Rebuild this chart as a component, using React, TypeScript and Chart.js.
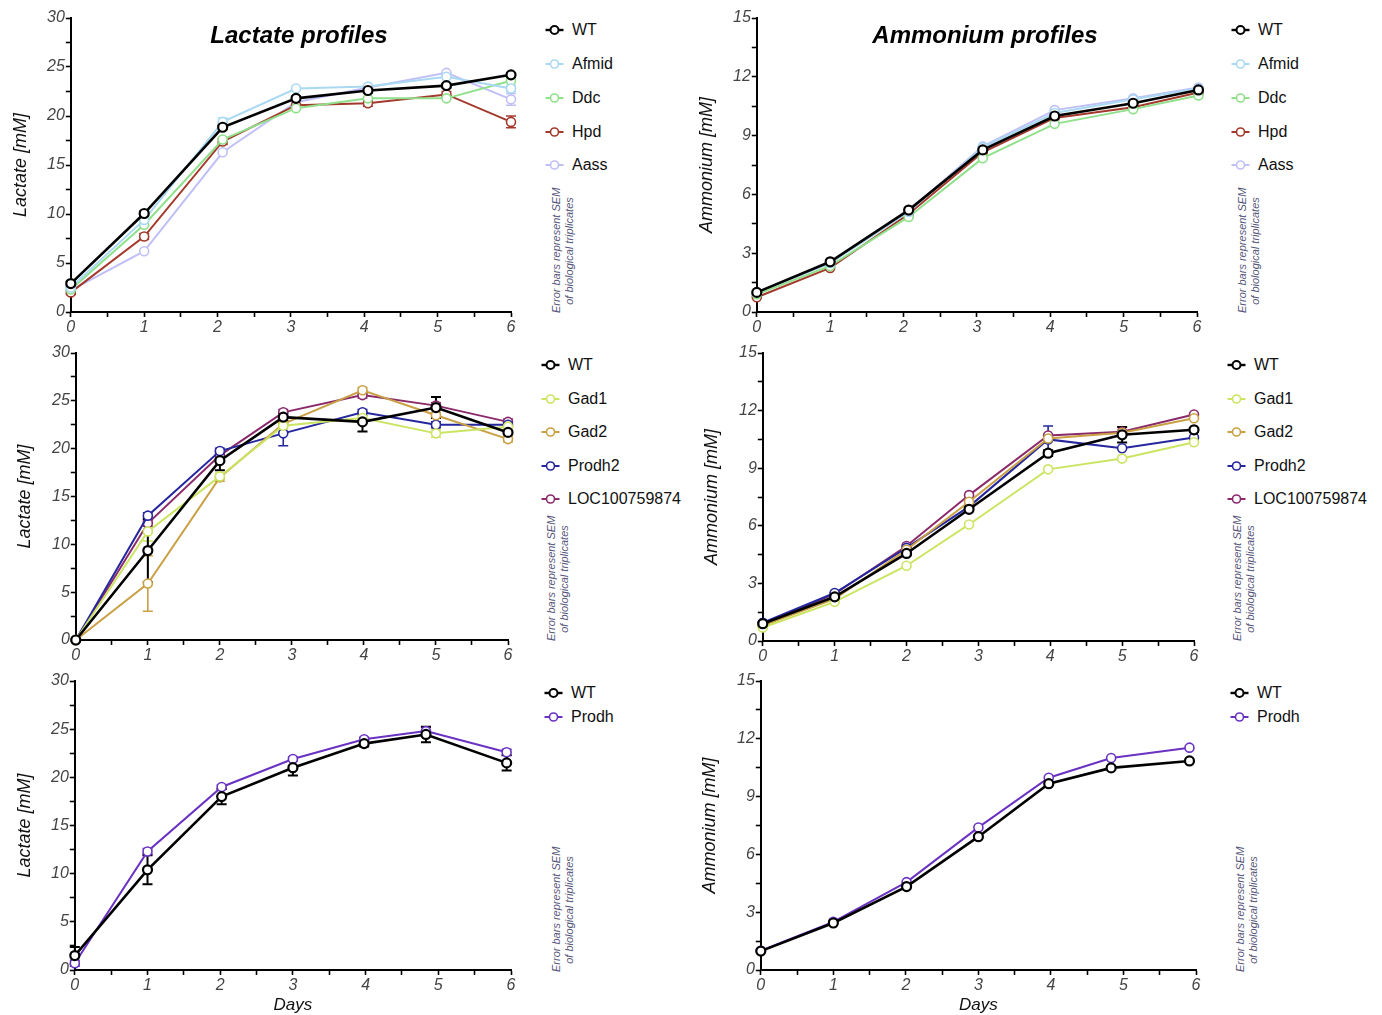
import React, { useEffect, useRef } from 'react';
import { Chart, registerables } from 'chart.js';

Chart.register(...registerables);

const FONT = '"Liberation Sans", Arial, Helvetica, sans-serif';

// ---------- Colours ----------
const C_WT = '#000000';
const C_AFMID = '#a9d9f2';
const C_DDC = '#8fe08a';
const C_HPD = '#a3392c';
const C_AASS = '#c0c0f6';
const C_GAD1 = '#cbe563';
const C_GAD2 = '#c9a044';
const C_PRODH2 = '#26279e';
const C_LOC = '#8b2a6b';
const C_PRODH = '#6a32c2';

// ---------- Panel A: Lactate (set 1) ----------
const daysA = [0, 1, 2.07, 3.07, 4.05, 5.12, 6];
const lacA_WT = [2.9, 10.05, 18.85, 21.8, 22.6, 23.1, 24.2];
const lacA_Afmid = [2.5, 9.4, 19.4, 22.8, 23.0, 24.0, 22.8];
const lacA_Ddc = [2.3, 8.9, 17.6, 20.8, 21.8, 21.8, 23.6];
const lacA_Hpd = [2.0, 7.7, 17.4, 21.1, 21.3, 22.2, 19.4];
const lacA_Aass = [2.2, 6.2, 16.3, 21.4, 22.9, 24.4, 21.7];
const lacA_WT_err = [0.2, 0.2, 0.2, 0.2, 0.2, 0.2, 0.2];
const lacA_Afmid_err = [0, 0, 0.4, 0, 0, 0, 0.3];
const lacA_Hpd_err = [0.2, 0.3, 0.3, 0.2, 0.3, 0.3, 0.6];
const lacA_Aass_err = [0, 0, 0, 0, 0, 0, 0.6];
const zeros = [0, 0, 0, 0, 0, 0, 0];

// ---------- Panel B: Ammonium (set 1) ----------
const daysB = [0, 1, 2.07, 3.08, 4.06, 5.13, 6.02];
const ammB_WT = [1.0, 2.56, 5.2, 8.27, 10.0, 10.65, 11.33];
const ammB_Afmid = [1.0, 2.5, 5.1, 8.4, 10.15, 10.85, 11.4];
const ammB_Ddc = [0.9, 2.35, 4.85, 7.85, 9.6, 10.35, 11.05];
const ammB_Hpd = [0.75, 2.25, 5.0, 8.15, 9.9, 10.45, 11.2];
const ammB_Aass = [1.0, 2.5, 5.15, 8.45, 10.3, 10.9, 11.45];

// ---------- Panel C: Lactate (set 2) ----------
const daysC = [0, 1, 2, 2.88, 3.98, 5, 6];
const lacC_WT = [0, 9.35, 18.75, 23.3, 22.8, 24.3, 21.7];
const lacC_Gad1 = [0, 11.35, 17.1, 22.4, 23.2, 21.6, 22.3];
const lacC_Gad2 = [0, 5.9, 17.0, 22.6, 26.1, 23.5, 21.0];
const lacC_Prodh2 = [0, 13.0, 19.75, 21.6, 23.8, 22.5, 22.5];
const lacC_LOC = [0, 12.2, 19.3, 23.8, 25.6, 24.5, 22.8];
const lacC_WT_err = [0, 3.3, 1.0, 0.4, 1.0, 1.1, 0.7];
const lacC_Gad1_err = [0, 1.0, 0.3, 0.3, 0.3, 0.4, 0.3];
const lacC_Gad2_err = [0, 2.9, 0.4, 0.3, 0.3, 0.3, 0.3];
const lacC_Prodh2_err = [0, 0.3, 0.3, 1.3, 0.3, 0.3, 0.3];
const lacC_LOC_err = [0, 0.3, 0.3, 0.3, 0.3, 0.3, 0.3];

// ---------- Panel D: Ammonium (set 2) ----------
const daysD = [0, 1, 2, 2.87, 3.97, 5, 6];
const ammD_WT = [0.9, 2.3, 4.56, 6.86, 9.78, 10.74, 11.0];
const ammD_Gad1 = [0.7, 2.04, 3.92, 6.07, 8.94, 9.5, 10.35];
const ammD_Gad2 = [0.8, 2.2, 4.75, 7.25, 10.55, 10.85, 11.6];
const ammD_Prodh2 = [0.95, 2.5, 4.85, 7.0, 10.5, 10.04, 10.6];
const ammD_LOC = [0.9, 2.45, 4.95, 7.6, 10.7, 10.9, 11.8];
const ammD_WT_err = [0.1, 0.1, 0.1, 0.1, 0.15, 0.4, 0.1];
const ammD_Prodh2_err = [0, 0, 0, 0, 0.7, 0, 0];

// ---------- Panel E: Lactate (set 3) ----------
const daysE = [0, 1, 2.02, 3, 3.98, 4.83, 5.94];
const lacE_WT = [1.5, 10.4, 18.0, 21.0, 23.5, 24.45, 21.5];
const lacE_Prodh = [0.7, 12.3, 19.0, 21.9, 23.95, 24.8, 22.6];
const lacE_WT_err = [0.9, 1.5, 0.8, 0.8, 0.3, 0.8, 0.8];
const lacE_Prodh_err = [0.3, 0.3, 0.2, 0.2, 0.2, 0.4, 0.3];

// ---------- Panel F: Ammonium (set 3) ----------
const daysF = [0, 1, 2.01, 3, 3.97, 4.83, 5.91];
const ammF_WT = [0.98, 2.44, 4.33, 6.92, 9.67, 10.49, 10.85];
const ammF_Prodh = [1.0, 2.5, 4.56, 7.4, 9.98, 11.0, 11.54];

// ---------- Text ----------
const lactateTitle = 'Lactate [mM]';
const ammoniumTitle = 'Ammonium [mM]';
const noteLines = ['Error bars represent SEM', 'of biological triplicates'];

type Series = { label: string; color: string; values: number[]; errs: number[] };
type Panel = {
  days: number[];
  series: Series[];
  yMax: number;
  yStep: number;
  yEvery: number;
  yTitle: string;
  plot: { l: number; t: number; r: number; b: number };
  yTitleX: number;
  showDays: boolean;
  legend: { x: number; ys: number[] };
  note: { left: number; bottom: number };
  title?: { text: string; x: number; y: number };
};

const panels: Panel[] = [
  {
    days: daysA,
    series: [
      { label: 'WT', color: C_WT, values: lacA_WT, errs: lacA_WT_err },
      { label: 'Afmid', color: C_AFMID, values: lacA_Afmid, errs: lacA_Afmid_err },
      { label: 'Ddc', color: C_DDC, values: lacA_Ddc, errs: zeros },
      { label: 'Hpd', color: C_HPD, values: lacA_Hpd, errs: lacA_Hpd_err },
      { label: 'Aass', color: C_AASS, values: lacA_Aass, errs: lacA_Aass_err },
    ],
    yMax: 30, yStep: 2.5, yEvery: 5, yTitle: lactateTitle,
    plot: { l: 71, t: 18, r: 511, b: 312 }, yTitleX: 21, showDays: false,
    legend: { x: 545, ys: [30, 64, 98, 132, 165] },
    note: { left: 550, bottom: 313 },
    title: { text: 'Lactate profiles', x: 299, y: 35 },
  },
  {
    days: daysB,
    series: [
      { label: 'WT', color: C_WT, values: ammB_WT, errs: zeros },
      { label: 'Afmid', color: C_AFMID, values: ammB_Afmid, errs: zeros },
      { label: 'Ddc', color: C_DDC, values: ammB_Ddc, errs: zeros },
      { label: 'Hpd', color: C_HPD, values: ammB_Hpd, errs: zeros },
      { label: 'Aass', color: C_AASS, values: ammB_Aass, errs: zeros },
    ],
    yMax: 15, yStep: 1.5, yEvery: 3, yTitle: ammoniumTitle,
    plot: { l: 757, t: 18, r: 1197, b: 312 }, yTitleX: 707, showDays: false,
    legend: { x: 1231, ys: [30, 64, 98, 132, 165] },
    note: { left: 1236, bottom: 313 },
    title: { text: 'Ammonium profiles', x: 985, y: 35 },
  },
  {
    days: daysC,
    series: [
      { label: 'WT', color: C_WT, values: lacC_WT, errs: lacC_WT_err },
      { label: 'Gad1', color: C_GAD1, values: lacC_Gad1, errs: lacC_Gad1_err },
      { label: 'Gad2', color: C_GAD2, values: lacC_Gad2, errs: lacC_Gad2_err },
      { label: 'Prodh2', color: C_PRODH2, values: lacC_Prodh2, errs: lacC_Prodh2_err },
      { label: 'LOC100759874', color: C_LOC, values: lacC_LOC, errs: lacC_LOC_err },
    ],
    yMax: 30, yStep: 2.5, yEvery: 5, yTitle: lactateTitle,
    plot: { l: 76, t: 353, r: 508, b: 640 }, yTitleX: 25, showDays: false,
    legend: { x: 541, ys: [365, 399, 432, 466, 499] },
    note: { left: 545, bottom: 641 },
  },
  {
    days: daysD,
    series: [
      { label: 'WT', color: C_WT, values: ammD_WT, errs: ammD_WT_err },
      { label: 'Gad1', color: C_GAD1, values: ammD_Gad1, errs: zeros },
      { label: 'Gad2', color: C_GAD2, values: ammD_Gad2, errs: zeros },
      { label: 'Prodh2', color: C_PRODH2, values: ammD_Prodh2, errs: ammD_Prodh2_err },
      { label: 'LOC100759874', color: C_LOC, values: ammD_LOC, errs: zeros },
    ],
    yMax: 15, yStep: 1.5, yEvery: 3, yTitle: ammoniumTitle,
    plot: { l: 763, t: 353, r: 1194, b: 641 }, yTitleX: 712, showDays: false,
    legend: { x: 1227, ys: [365, 399, 432, 466, 499] },
    note: { left: 1231, bottom: 641 },
  },
  {
    days: daysE,
    series: [
      { label: 'WT', color: C_WT, values: lacE_WT, errs: lacE_WT_err },
      { label: 'Prodh', color: C_PRODH, values: lacE_Prodh, errs: lacE_Prodh_err },
    ],
    yMax: 30, yStep: 2.5, yEvery: 5, yTitle: lactateTitle,
    plot: { l: 75, t: 681, r: 511, b: 970 }, yTitleX: 25, showDays: true,
    legend: { x: 544, ys: [693, 717] },
    note: { left: 550, bottom: 972 },
  },
  {
    days: daysF,
    series: [
      { label: 'WT', color: C_WT, values: ammF_WT, errs: zeros },
      { label: 'Prodh', color: C_PRODH, values: ammF_Prodh, errs: zeros },
    ],
    yMax: 15, yStep: 1.5, yEvery: 3, yTitle: ammoniumTitle,
    plot: { l: 761, t: 681, r: 1196, b: 970 }, yTitleX: 710, showDays: true,
    legend: { x: 1230, ys: [693, 717] },
    note: { left: 1234, bottom: 972 },
  },
];

const errorBarPlugin = {
  id: 'errorBars',
  beforeDatasetsDraw(chart: any) {
    const ctx = chart.ctx;
    const ys = chart.scales.y;
    const n = chart.data.datasets.length;
    for (let i = n - 1; i >= 0; i--) {
      const ds = chart.data.datasets[i];
      const errs: number[] = ds.errs || [];
      const meta = chart.getDatasetMeta(i);
      ctx.save();
      ctx.strokeStyle = ds.borderColor;
      ctx.lineWidth = i === 0 ? 2 : 1.6;
      meta.data.forEach((pt: any, j: number) => {
        const e = errs[j];
        if (!e) return;
        const v = ds.data[j].y;
        const y1 = ys.getPixelForValue(v + e);
        const y2 = ys.getPixelForValue(Math.max(0, v - e));
        const x = pt.x;
        ctx.beginPath();
        ctx.moveTo(x, y1);
        ctx.lineTo(x, y2);
        ctx.moveTo(x - 5, y1);
        ctx.lineTo(x + 5, y1);
        ctx.moveTo(x - 5, y2);
        ctx.lineTo(x + 5, y2);
        ctx.stroke();
      });
      ctx.restore();
    }
  },
};

const PAD_TOP = 12;
const PAD_RIGHT = 14;
const TICK_FONT = { family: FONT, size: 16, style: 'italic' as const };

function PanelChart({ p }: { p: Panel }) {
  const ref = useRef<HTMLCanvasElement | null>(null);
  const yTitleFont = 18;
  const canvasLeft = p.yTitleX - (yTitleFont * 1.2) / 2;
  const yW = p.plot.l - canvasLeft;
  const xH = p.showDays ? 1015 - p.plot.b : 28;
  const width = yW + (p.plot.r - p.plot.l) + PAD_RIGHT;
  const height = PAD_TOP + (p.plot.b - p.plot.t) + xH;
  const top = p.plot.t - PAD_TOP;

  useEffect(() => {
    const canvas = ref.current;
    if (!canvas) return;
    const chart = new Chart(canvas, {
      type: 'line',
      data: {
        datasets: p.series.map((s, idx) => ({
          label: s.label,
          data: p.days.map((d, i) => ({ x: d, y: s.values[i] })),
          errs: s.errs,
          borderColor: s.color,
          backgroundColor: s.color,
          borderWidth: idx === 0 ? 2.6 : 2,
          pointRadius: 4.5,
          pointBorderWidth: idx === 0 ? 2.2 : 1.6,
          pointBackgroundColor: '#ffffff',
          pointBorderColor: s.color,
          tension: 0,
          fill: false,
          clip: false,
        })) as any,
      },
      options: {
        animation: false,
        responsive: false,
        maintainAspectRatio: false,
        events: [],
        layout: { padding: { top: PAD_TOP, right: PAD_RIGHT, left: 0, bottom: 0 } },
        plugins: {
          legend: { display: false },
          tooltip: { enabled: false },
          title: { display: false },
        },
        scales: {
          x: {
            type: 'linear',
            min: 0,
            max: 6,
            afterFit: (s: any) => {
              s.height = xH;
            },
            grid: {
              drawOnChartArea: false,
              drawTicks: true,
              tickLength: 5,
              tickColor: '#000',
              tickWidth: 1.6,
            },
            border: { display: true, color: '#000', width: 2 },
            ticks: {
              stepSize: 0.5,
              autoSkip: false,
              maxRotation: 0,
              padding: 1,
              color: '#444',
              font: TICK_FONT,
              callback: (v: any) => (Math.abs(v - Math.round(v)) < 1e-6 ? String(Math.round(v)) : ''),
            },
            title: {
              display: p.showDays,
              text: 'Days',
              color: '#111',
              font: { family: FONT, size: 17, style: 'italic' },
              padding: { top: 0, bottom: 0 },
            },
          },
          y: {
            type: 'linear',
            min: 0,
            max: p.yMax,
            afterFit: (s: any) => {
              s.width = yW;
            },
            grid: {
              drawOnChartArea: false,
              drawTicks: true,
              tickLength: 5,
              tickColor: '#000',
              tickWidth: 1.6,
            },
            border: { display: true, color: '#000', width: 2 },
            ticks: {
              stepSize: p.yStep,
              autoSkip: false,
              padding: 1,
              color: '#444',
              font: TICK_FONT,
              callback: (v: any) => {
                const q = v / p.yEvery;
                return Math.abs(q - Math.round(q)) < 1e-6 ? String(Math.round(v)) : '';
              },
            },
            title: {
              display: true,
              text: p.yTitle,
              color: '#111',
              font: { family: FONT, size: yTitleFont, style: 'italic' },
              padding: { top: 0, bottom: 0 },
            },
          },
        },
      } as any,
      plugins: [errorBarPlugin],
    });
    return () => chart.destroy();
  }, []);

  return (
    <canvas
      ref={ref}
      width={Math.round(width)}
      height={Math.round(height)}
      style={{
        position: 'absolute',
        left: canvasLeft,
        top,
        width: Math.round(width),
        height: Math.round(height),
      }}
    />
  );
}

function Legend({ p }: { p: Panel }) {
  return (
    <>
      {p.series.map((s, i) => (
        <div
          key={s.label}
          style={{
            position: 'absolute',
            left: p.legend.x,
            top: p.legend.ys[i] - 11,
            height: 22,
            display: 'flex',
            alignItems: 'center',
            whiteSpace: 'nowrap',
          }}
        >
          <svg width={19} height={12} style={{ display: 'block' }}>
            <line x1={0.5} y1={6} x2={18.5} y2={6} stroke={s.color} strokeWidth={i === 0 ? 2.4 : 2} />
            <circle cx={9.5} cy={6} r={4} fill="#fff" stroke={s.color} strokeWidth={i === 0 ? 2 : 1.6} />
          </svg>
          <span style={{ marginLeft: 8, fontSize: 16, color: '#111', fontFamily: FONT }}>{s.label}</span>
        </div>
      ))}
    </>
  );
}

function Note({ p }: { p: Panel }) {
  return (
    <div
      style={{
        position: 'absolute',
        left: p.note.left,
        top: p.note.bottom,
        width: 124,
        transformOrigin: '0 0',
        transform: 'rotate(-90deg)',
        fontFamily: FONT,
        fontStyle: 'italic',
        fontSize: 11,
        lineHeight: '13px',
        color: '#55557a',
        textAlign: 'center',
        whiteSpace: 'nowrap',
      }}
    >
      <div>{noteLines[0]}</div>
      <div>{noteLines[1]}</div>
    </div>
  );
}

export default function App() {
  return (
    <div
      style={{
        position: 'absolute',
        left: 0,
        top: 0,
        width: 1382,
        height: 1015,
        background: '#ffffff',
        overflow: 'hidden',
        fontFamily: FONT,
      }}
    >
      {panels.map((p, i) => (
        <React.Fragment key={i}>
          <PanelChart p={p} />
          <Legend p={p} />
          <Note p={p} />
          {p.title && (
            <div
              style={{
                position: 'absolute',
                left: p.title.x - 150,
                width: 300,
                top: p.title.y - 15,
                height: 30,
                lineHeight: '30px',
                textAlign: 'center',
                fontFamily: FONT,
                fontWeight: 'bold',
                fontStyle: 'italic',
                fontSize: 24,
                color: '#000',
              }}
            >
              {p.title.text}
            </div>
          )}
        </React.Fragment>
      ))}
    </div>
  );
}
